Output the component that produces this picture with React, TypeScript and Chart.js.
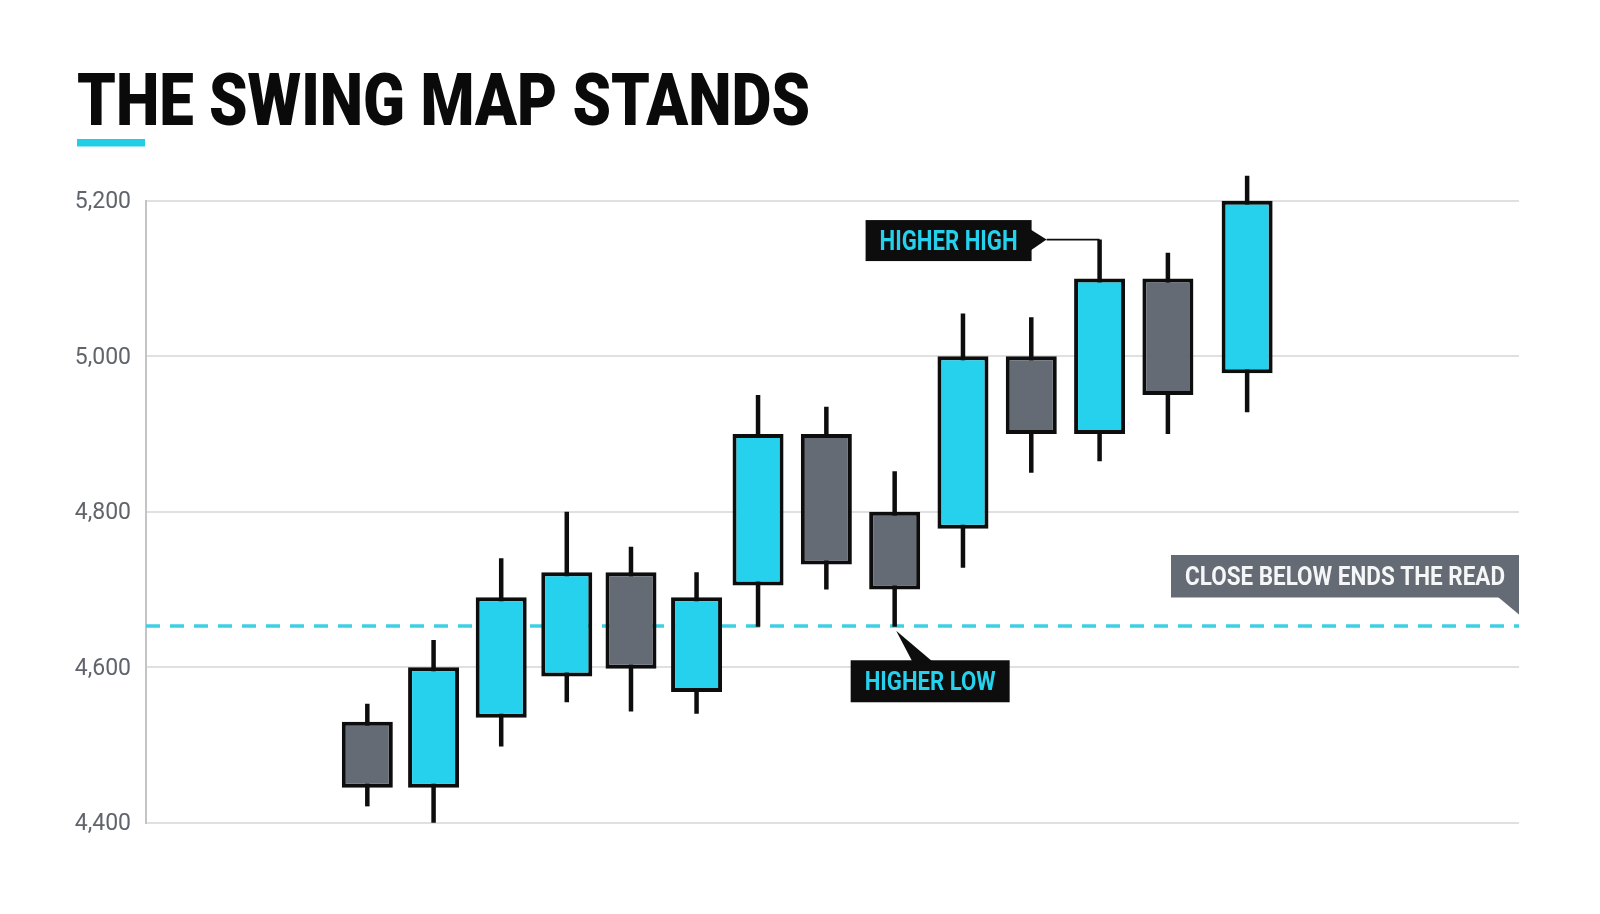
import React, { useEffect, useRef } from "react";
import { Chart, registerables } from "chart.js";

Chart.register(...registerables);

// ---- data ----
const sessions = [0, 0.97, 1.96, 2.92, 3.86, 4.82, 5.72, 6.72, 7.72, 8.72, 9.72, 10.72, 11.72, 12.88];
const opens = [4530, 4445, 4535, 4588, 4722, 4568, 4705, 4900, 4800, 4778, 5000, 4900, 5100, 4978];
const highs = [4553, 4635, 4740, 4800, 4755, 4722, 4950, 4935, 4852, 5055, 5050, 5150, 5133, 5232];
const lows = [4421, 4400, 4498, 4555, 4543, 4540, 4652, 4700, 4652, 4728, 4850, 4865, 4900, 4928];
const closes = [4445, 4600, 4690, 4722, 4598, 4690, 4900, 4732, 4700, 5000, 4900, 5100, 4950, 5200];
const yTicks = [4400, 4600, 4800, 5000, 5200];
const sessionMin = -3.24;
const sessionMax = 16.86;
const invalidationLevel = 4653;

const TITLE = "THE SWING MAP STANDS";
const HIGH_LABEL = "HIGHER HIGH";
const HIGH_INDEX = 11;
const LOW_LABEL = "HIGHER LOW";
const LOW_INDEX = 8;
const LEVEL_LABEL = "CLOSE BELOW ENDS THE READ";

// ---- styles ----
const CYAN = "#25d1ec";
const GRAY = "#656b75";
const INK = "#0d0d0d";

function fitText(
  ctx: CanvasRenderingContext2D,
  text: string,
  x: number,
  baseline: number,
  font: string,
  color: string,
  width: number,
  align: "left" | "center"
) {
  ctx.save();
  ctx.font = font;
  ctx.fillStyle = color;
  ctx.textAlign = "left";
  ctx.textBaseline = "alphabetic";
  const w = ctx.measureText(text).width || 1;
  const sx = width / w;
  const left = align === "center" ? x - width / 2 : x;
  ctx.translate(left, baseline);
  ctx.scale(sx, 1);
  ctx.fillText(text, 0, 0);
  ctx.restore();
}

const overlayPlugin = {
  id: "swingOverlay",
  afterDatasetsDraw(chart: any) {
    const ctx: CanvasRenderingContext2D = chart.ctx;
    const xs = chart.scales.x;
    const ys = chart.scales.y;
    const area = chart.chartArea;

    // HIGHER HIGH callout
    {
      const cx = xs.getPixelForValue(sessions[HIGH_INDEX]);
      const hy = ys.getPixelForValue(highs[HIGH_INDEX]);
      const tipX = cx - 53;
      const boxR = tipX - 15;
      const boxW = 166;
      const boxH = 41;
      const cy = hy + 1;
      ctx.save();
      ctx.strokeStyle = INK;
      ctx.lineWidth = 1.6;
      ctx.beginPath();
      ctx.moveTo(tipX, hy);
      ctx.lineTo(cx, hy);
      ctx.stroke();
      ctx.fillStyle = INK;
      ctx.fillRect(boxR - boxW, cy - boxH / 2, boxW, boxH);
      ctx.beginPath();
      ctx.moveTo(boxR - 1, cy - 11);
      ctx.lineTo(tipX, hy);
      ctx.lineTo(boxR - 1, cy + 10);
      ctx.closePath();
      ctx.fill();
      ctx.restore();
      fitText(ctx, HIGH_LABEL, boxR - boxW / 2, cy + 9.6, "700 27px Roboto", CYAN, 138, "center");
    }

    // HIGHER LOW callout
    {
      const cx = xs.getPixelForValue(sessions[LOW_INDEX]);
      const ly = ys.getPixelForValue(lows[LOW_INDEX]);
      const boxL = cx - 44;
      const boxW = 159;
      const boxT = ly + 33.5;
      const boxH = 42;
      ctx.save();
      ctx.fillStyle = INK;
      ctx.fillRect(boxL, boxT, boxW, boxH);
      ctx.beginPath();
      ctx.moveTo(cx + 1.5, ly + 4);
      ctx.lineTo(cx + 37.5, boxT + 1);
      ctx.lineTo(cx + 17.5, boxT + 1);
      ctx.closePath();
      ctx.fill();
      ctx.restore();
      fitText(ctx, LOW_LABEL, boxL + boxW / 2, boxT + boxH / 2 + 9, "700 25.5px Roboto", CYAN, 131, "center");
    }

    // CLOSE BELOW ENDS THE READ flag
    {
      const lineY = ys.getPixelForValue(invalidationLevel);
      const right = area.right;
      const boxW = 348;
      const boxH = 42.5;
      const bottom = lineY - 28.5;
      ctx.save();
      ctx.fillStyle = GRAY;
      ctx.fillRect(right - boxW, bottom - boxH, boxW, boxH);
      ctx.beginPath();
      ctx.moveTo(right - 21, bottom - 0.5);
      ctx.lineTo(right, bottom - 0.5);
      ctx.lineTo(right, bottom + 17);
      ctx.closePath();
      ctx.fill();
      ctx.restore();
      fitText(ctx, LEVEL_LABEL, right - boxW / 2, bottom - boxH / 2 + 8.9, "700 25px Roboto", "#f5f6f7", 320, "center");
    }
  },
  afterDraw(chart: any) {
    const ctx: CanvasRenderingContext2D = chart.ctx;
    fitText(ctx, TITLE, 77, 125, "900 73px Roboto", "#0a0a0a", 733, "left");
    ctx.save();
    ctx.fillStyle = "#22cde6";
    ctx.fillRect(77, 139, 68, 7.5);
    ctx.restore();
  },
};

export default function App() {
  const canvasRef = useRef<HTMLCanvasElement | null>(null);

  useEffect(() => {
    document.body.style.margin = "0";
    const canvas = canvasRef.current;
    if (!canvas) return;

    const bullish = opens.map((o, i) => closes[i] >= o);
    const bodyColors = bullish.map((b) => (b ? CYAN : GRAY));

    const chart = new Chart(canvas, {
      type: "bar",
      data: {
        datasets: [
          {
            type: "line",
            label: "Invalidation",
            data: [
              { x: sessionMin, y: invalidationLevel },
              { x: sessionMax, y: invalidationLevel },
            ],
            borderColor: "#3dd0e3",
            borderWidth: 3.5,
            borderDash: [14, 10],
            pointRadius: 0,
            fill: false,
            order: 3,
          } as any,
          {
            label: "Wicks",
            data: sessions.map((x, i) => ({ x, y: [lows[i], highs[i]] })),
            backgroundColor: INK,
            borderWidth: 0,
            barThickness: 4.5,
            grouped: false,
            inflateAmount: 0,
            clip: false,
            order: 2,
          } as any,
          {
            label: "Bodies",
            data: sessions.map((x, i) => ({ x, y: [opens[i], closes[i]] })),
            backgroundColor: bodyColors,
            borderColor: INK,
            borderWidth: 4,
            borderSkipped: false,
            barThickness: 51,
            grouped: false,
            inflateAmount: 0,
            clip: false,
            order: 1,
          } as any,
        ],
      },
      options: {
        animation: false,
        responsive: false,
        devicePixelRatio: 1,
        layout: { padding: { left: 0, top: 200.7, right: 81, bottom: 91.3 } },
        plugins: {
          legend: { display: false },
          tooltip: { enabled: false },
          title: { display: false },
        },
        scales: {
          x: {
            type: "linear",
            min: sessionMin,
            max: sessionMax,
            offset: false,
            display: false,
            grid: { display: false },
          },
          y: {
            type: "linear",
            min: 4400,
            max: 5200,
            afterBuildTicks: (s: any) => {
              s.ticks = yTicks.map((v) => ({ value: v }));
            },
            afterFit: (s: any) => {
              s.width = 146;
            },
            grid: { color: "#e0e0e0", lineWidth: 2, drawTicks: false },
            border: { display: true, color: "#c4c4c4", width: 2 },
            ticks: {
              padding: 15,
              labelOffset: 2,
              color: "#60646b",
              font: { family: "Roboto", size: 23, weight: "400" },
              callback: (v: any) => Number(v).toLocaleString("en-US"),
            },
          },
        },
      } as any,
      plugins: [overlayPlugin],
    });

    return () => chart.destroy();
  }, []);

  return (
    <div style={{ position: "absolute", left: 0, top: 0, width: 1600, height: 914, background: "#ffffff" }}>
      <canvas ref={canvasRef} width={1600} height={914} style={{ width: 1600, height: 914, display: "block" }} />
    </div>
  );
}
